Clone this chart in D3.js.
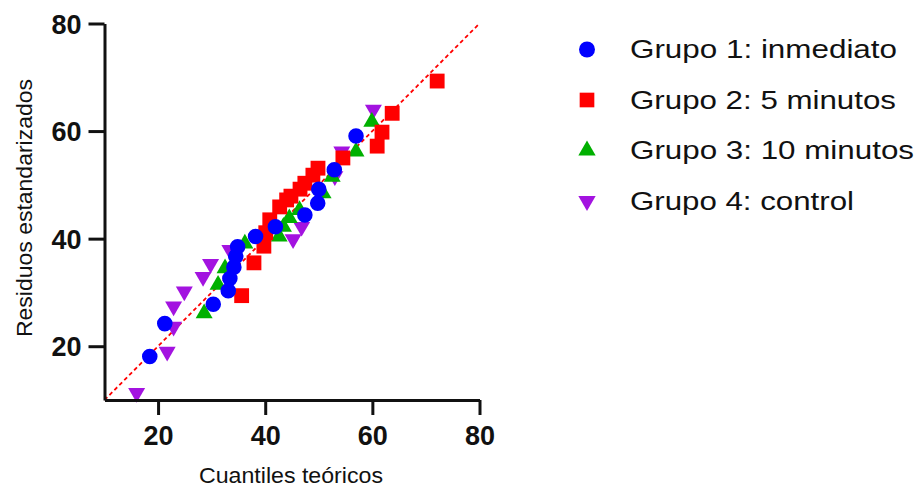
<!DOCTYPE html>
<html>
<head>
<meta charset="utf-8">
<script src="https://cdn.jsdelivr.net/npm/d3@7"></script>
<style>
  body { margin: 0; background: #fff; }
  svg { display: block; font-family: 'Liberation Sans', Arial, sans-serif; }
</style>
</head>
<body>
<div id="chart"></div>
<script>
const groupNames = ['Grupo 1: inmediato', 'Grupo 2: 5 minutos', 'Grupo 3: 10 minutos', 'Grupo 4: control'];
const groupColors = ['#0000FF', '#FF0000', '#00B000', '#A313E0'];

// [teorico, residuo]
const g1 = [[18.45,18.1],[21.25,24.2],[30.3,27.8],[33.1,30.3],[33.4,32.6],[34.15,34.7],[34.5,36.7],[34.85,38.5],
  [38.2,40.4],[41.9,42.2],[47.4,44.4],[49.8,46.6],[50.0,49.2],[52.9,52.8],[56.95,59.1]];
const g2 = [[35.6,29.4],[37.9,35.5],[39.75,38.6],[40.1,41.1],[40.85,43.5],[42.7,45.9],[44.0,47.2],[44.8,47.9],
  [46.5,49.2],[47.4,50.3],[48.9,51.8],[49.85,53.1],[54.5,55.0],[60.9,57.2],[61.8,59.8],[63.7,63.3],[72.1,69.3]];
const g3 = [[28.6,26.1],[31.2,31.4],[32.5,34.5],[36.2,39.1],[42.6,40.4],[43.4,42.2],[44.5,43.8],[46.4,45.3],
  [50.8,48.4],[52.5,51.5],[56.95,56.2],[59.9,61.7]];
const g4 = [[16.0,11.3],[21.7,19.0],[22.9,23.65],[22.9,27.4],[24.9,30.2],[28.4,32.9],[29.8,35.3],[33.4,37.9],
  [45.2,39.9],[46.8,42.2],[53.0,51.6],[54.3,56.2],[60.2,64.0]];
const groups = [g1, g2, g3, g4];

const xTicks = [20, 40, 60, 80];
const yTicks = [20, 40, 60, 80];

const width = 921, height = 489;

const svg = d3.select('#chart').append('svg')
  .attr('width', width)
  .attr('height', height);

const x = d3.scaleLinear().domain([10, 80]).range([104.5, 479.5]);
const y = d3.scaleLinear().domain([10, 80]).range([400, 23.5]);

// reference line y = x
svg.append('line')
  .attr('x1', x(10)).attr('y1', y(10))
  .attr('x2', x(80)).attr('y2', y(80))
  .attr('stroke', '#FF0000')
  .attr('stroke-width', 1.8)
  .attr('stroke-dasharray', '4,3');

const symbols = [
  d3.symbol().type(d3.symbolCircle).size(190),
  d3.symbol().type(d3.symbolSquare).size(220),
  d3.symbol().type(d3.symbolTriangle).size(125),
  d3.symbol().type(d3.symbolTriangle).size(125)
];
const rot = [0, 0, 0, 180];

// last group drawn first
for (let i = groups.length - 1; i >= 0; i--) {
  svg.append('g')
    .selectAll('path')
    .data(groups[i])
    .enter()
    .append('path')
    .attr('d', symbols[i]())
    .attr('transform', d => `translate(${x(d[0])},${y(d[1])}) rotate(${rot[i]})`)
    .attr('fill', groupColors[i]);
}

const xAxis = svg.append('g')
  .attr('transform', `translate(0,${y(10)})`)
  .call(d3.axisBottom(x).tickValues(xTicks).tickSize(15).tickSizeOuter(0).tickPadding(11));

const yAxis = svg.append('g')
  .attr('transform', `translate(${x(10)},0)`)
  .call(d3.axisLeft(y).tickValues(yTicks).tickSize(16).tickSizeOuter(0).tickPadding(7));

[xAxis, yAxis].forEach(a => {
  a.select('.domain').attr('stroke', '#111').attr('stroke-width', 3);
  a.selectAll('.tick line').attr('stroke', '#111').attr('stroke-width', 3);
  a.selectAll('.tick text')
    .attr('fill', '#111')
    .style('font-size', '27px')
    .style('font-weight', 'bold')
    .style('font-family', "'Liberation Sans', Arial, sans-serif");
});
yAxis.selectAll('.tick text').attr('dy', '0.36em');

svg.append('text')
  .attr('x', 291)
  .attr('y', 483)
  .attr('text-anchor', 'middle')
  .attr('fill', '#111')
  .attr('textLength', 184)
  .attr('lengthAdjust', 'spacingAndGlyphs')
  .style('font-size', '21.5px')
  .text('Cuantiles teóricos');

svg.append('text')
  .attr('transform', 'translate(32,208) rotate(-90)')
  .attr('text-anchor', 'middle')
  .attr('fill', '#111')
  .attr('textLength', 258)
  .attr('lengthAdjust', 'spacingAndGlyphs')
  .style('font-size', '22px')
  .text('Residuos estandarizados');

// legend
const legendWidths = [267, 266, 284, 224];
const legend = svg.append('g');
groupNames.forEach((name, i) => {
  const ly = 49.5 + i * 50.5;
  legend.append('path')
    .attr('d', d3.symbol().type(i == 0 ? d3.symbolCircle : i == 1 ? d3.symbolSquare : d3.symbolTriangle)
      .size(i == 0 ? 200 : i == 1 ? 215 : 130)())
    .attr('transform', `translate(587,${ly}) rotate(${rot[i]})`)
    .attr('fill', groupColors[i]);
  legend.append('text')
    .attr('x', 630)
    .attr('y', ly + 8.5)
    .attr('fill', '#111')
    .attr('textLength', legendWidths[i])
    .attr('lengthAdjust', 'spacingAndGlyphs')
    .style('font-size', '25px')
    .text(name);
});
</script>
</body>
</html>
